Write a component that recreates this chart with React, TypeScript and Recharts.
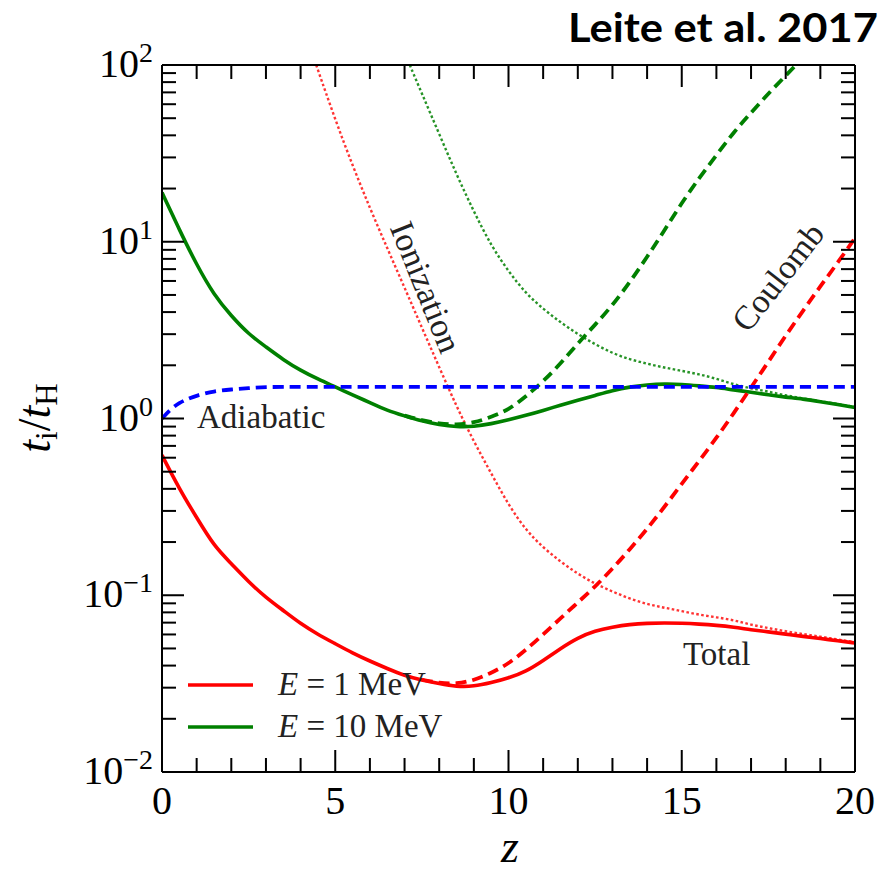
import React from "react";
import { LineChart, Line, XAxis, YAxis } from "recharts";

// z grid for the "Total" curves
const zTotal = [0, 0.5, 1, 1.5, 2, 2.5, 3, 3.5, 4, 4.5, 5, 5.5, 6, 6.5, 7, 7.5, 8, 8.5, 9, 9.5, 10,
  10.5, 11, 11.5, 12, 12.5, 13, 13.5, 14, 14.5, 15, 15.5, 16, 16.5, 17, 17.5, 18, 18.5, 19, 19.5, 20];
const redTotal = [0.62, 0.4, 0.275, 0.19, 0.151, 0.119, 0.097, 0.082, 0.069, 0.06, 0.0532, 0.0471, 0.0424,
  0.0385, 0.0351, 0.0331, 0.0316, 0.0304, 0.0305, 0.032, 0.034, 0.037, 0.0427, 0.05, 0.0575, 0.063, 0.066,
  0.0684, 0.0695, 0.0698, 0.0695, 0.0687, 0.0676, 0.066, 0.0638, 0.0621, 0.0603, 0.0585, 0.0569, 0.0552, 0.0537];
const greenTotal = [19, 11.7, 7.4, 5.0, 3.8, 3.0, 2.54, 2.15, 1.87, 1.67, 1.51, 1.36, 1.23, 1.11, 1.035, 0.966,
  0.923, 0.897, 0.9, 0.933, 0.982, 1.042, 1.11, 1.19, 1.27, 1.35, 1.44, 1.51, 1.55, 1.57, 1.56, 1.53, 1.5, 1.45,
  1.41, 1.36, 1.32, 1.29, 1.245, 1.2, 1.155];

// Coulomb (dashed)
const zRedCoulomb = [7.5, 8, 8.5, 9, 9.5, 10, 10.5, 11, 11.5, 12, 12.5, 13, 13.5, 14, 14.5, 15, 15.5, 16,
  16.5, 17, 17.5, 18, 18.5, 19, 19.5, 20];
const redCoulomb = [0.0333, 0.0318, 0.0315, 0.033, 0.0363, 0.041, 0.049, 0.06, 0.074, 0.091, 0.112, 0.141,
  0.182, 0.237, 0.316, 0.427, 0.575, 0.776, 1.07, 1.5, 2.09, 2.95, 4.07, 5.6, 7.6, 10.5];
const zGreenCoulomb = [7, 7.5, 8, 8.5, 9, 9.5, 10, 10.5, 11, 11.5, 12, 12.5, 13, 13.5, 14, 14.5, 15, 15.5,
  16, 16.5, 17, 17.5, 18, 18.5];
const greenCoulomb = [1.04, 0.975, 0.935, 0.92, 0.945, 1.02, 1.12, 1.33, 1.62, 2.04, 2.66, 3.39, 4.37, 5.9,
  8.2, 11.6, 16.6, 22.9, 30.9, 41.7, 53.7, 69, 87, 110];

// Ionization (dotted)
const zRedIon = [4.45, 5, 5.5, 6, 6.5, 7, 7.5, 8, 8.5, 9, 9.5, 10, 10.5, 11, 11.5, 12, 12.5, 13, 13.5, 14,
  14.5, 15, 15.5, 16, 16.5, 17, 17.5, 18, 18.5, 19, 19.5, 20];
const redIon = [100, 49, 27, 15.5, 9.2, 5.5, 3.27, 1.95, 1.17, 0.74, 0.49, 0.324, 0.234, 0.186, 0.155, 0.132,
  0.116, 0.105, 0.0955, 0.089, 0.085, 0.0813, 0.0776, 0.075, 0.0724, 0.068, 0.0652, 0.0625, 0.0603, 0.0583,
  0.0562, 0.0543];
const zGreenIon = [7.15, 7.5, 8, 8.5, 9, 9.5, 10, 10.5, 11, 11.5, 12, 12.5, 13, 13.5, 14, 14.5, 15, 15.5, 16,
  16.5, 17, 17.5, 18, 18.5, 19, 19.5, 20];
const greenIon = [100, 69, 40.7, 24, 14.8, 9.5, 6.8, 5.1, 4.17, 3.5, 3.0, 2.63, 2.34, 2.16, 2.04, 1.94, 1.86,
  1.78, 1.68, 1.56, 1.48, 1.42, 1.35, 1.3, 1.25, 1.21, 1.16];

// Adiabatic (blue dashed)
const zAdiabatic = [0, 0.25, 0.5, 0.75, 1, 1.5, 2, 2.5, 3, 4, 6, 8, 10, 12, 14, 16, 18, 20];
const adiabatic = [1.0, 1.13, 1.23, 1.29, 1.35, 1.43, 1.46, 1.485, 1.51, 1.51, 1.51, 1.51, 1.51, 1.51, 1.51,
  1.51, 1.51, 1.51];

// axis ticks
const xMinorTicks = [1, 2, 3, 4, 6, 7, 8, 9, 11, 12, 13, 14, 16, 17, 18, 19];
const xMajorTicks = [0, 5, 10, 15, 20];
const yMajorTicks = [0.01, 0.1, 1, 10, 100];
const yMinorTicks = yMajorTicks
  .slice(0, -1)
  .flatMap((d) => [2, 3, 4, 5, 6, 7, 8, 9].map((m) => +(d * m).toPrecision(3)));

const RED = "#ff0000";
const GREEN = "#008000";
const BLUE = "#0000ff";
const SERIF = "'Liberation Serif', 'Times New Roman', serif";

// plot frame (matches the axis sizes given to the chart below)
const W = 885;
const H = 873;
const LEFT = 162;
const RIGHT = 30;
const TOP = 65;
const BOTTOM = 101;
const plotW = W - LEFT - RIGHT;
const plotH = H - TOP - BOTTOM;
const zToPx = (z: number) => LEFT + (z / 20) * plotW;
const vToPx = (v: number) => TOP + ((2 - Math.log10(v)) / 4) * plotH;

const pts = (z: number[], v: number[]) => z.map((zz, i) => ({ z: zz, v: v[i] }));

const expLabel = (v: number) => {
  const e = Math.round(Math.log10(v));
  return e < 0 ? "\u2212" + -e : String(e);
};

const BottomLabel = ({ x, y, payload }: any) => (
  <text x={x} y={y + 42} textAnchor="middle" fontFamily={SERIF} fontSize={40} fill="#000">
    {payload.value}
  </text>
);

const LeftLabel = ({ x, y, payload }: any) => (
  <text x={x - 9} y={y + 12} textAnchor="end" fontFamily={SERIF} fontSize={40} fill="#000">
    10
    <tspan dy={-15} fontSize={28}>
      {expLabel(payload.value)}
    </tspan>
  </text>
);

const NoLabel = () => <g />;

const axisLine = { stroke: "#000", strokeWidth: 2 };

// inward tick marks on all four sides, drawn as thin filled bars
function FrameTicks() {
  const x0 = zToPx(0);
  const x1 = zToPx(20);
  const y0 = vToPx(100);
  const y1 = vToPx(0.01);
  const bars: { x: number; y: number; w: number; h: number }[] = [];
  const xt: [number, number][] = [
    ...xMajorTicks.map((z) => [z, 22] as [number, number]),
    ...xMinorTicks.map((z) => [z, 14] as [number, number]),
  ];
  const yt: [number, number][] = [
    ...yMajorTicks.map((v) => [v, 22] as [number, number]),
    ...yMinorTicks.map((v) => [v, 14] as [number, number]),
  ];
  xt.forEach(([z, len]) => {
    const x = zToPx(z);
    bars.push({ x: x - 1, y: y1 - len, w: 2, h: len });
    bars.push({ x: x - 1, y: y0, w: 2, h: len });
  });
  yt.forEach(([v, len]) => {
    const y = vToPx(v);
    bars.push({ x: x0, y: y - 1, w: len, h: 2 });
    bars.push({ x: x1 - len, y: y - 1, w: len, h: 2 });
  });
  return (
    <g fill="#000">
      {bars.map((b, i) => (
        <rect key={i} x={b.x} y={b.y} width={b.w} height={b.h} fill="#000" />
      ))}
    </g>
  );
}

export default function App() {
  const common = {
    xAxisId: "b",
    yAxisId: "l",
    dataKey: "v",
    type: "basis" as const,
    dot: false,
    activeDot: false,
    isAnimationActive: false,
  };
  return (
    <div style={{ position: "absolute", left: 0, top: 0, width: W, height: H, background: "#fff" }}>
      <LineChart width={W} height={H} margin={{ top: 0, right: 0, bottom: 0, left: 0 }}>
        <XAxis xAxisId="b" dataKey="z" type="number" domain={[0, 20]} allowDataOverflow ticks={xMajorTicks} interval={0}
          height={BOTTOM} tickSize={0} tickMargin={0} tickLine={false} axisLine={axisLine} tick={BottomLabel} />
        <XAxis xAxisId="t" orientation="top" dataKey="z" type="number" domain={[0, 20]} allowDataOverflow ticks={xMajorTicks}
          height={TOP} tickSize={0} tickLine={false} axisLine={axisLine} tick={NoLabel} />
        <YAxis yAxisId="l" scale="log" type="number" domain={[0.01, 100]} allowDataOverflow ticks={yMajorTicks} interval={0}
          width={LEFT} tickSize={0} tickMargin={0} tickLine={false} axisLine={axisLine} tick={LeftLabel} />
        <YAxis yAxisId="r" orientation="right" scale="log" type="number" domain={[0.01, 100]} allowDataOverflow ticks={yMajorTicks}
          width={RIGHT} tickSize={0} tickLine={false} axisLine={axisLine} tick={NoLabel} />

        <Line {...common} data={pts(zRedIon, redIon)} stroke={RED} strokeOpacity={0.8} strokeWidth={2.4} strokeDasharray="2.6 2.4" />
        <Line {...common} data={pts(zGreenIon, greenIon)} stroke={GREEN} strokeOpacity={0.85} strokeWidth={2.4} strokeDasharray="2.6 2.4" />
        <Line {...common} data={pts(zTotal, redTotal)} stroke={RED} strokeWidth={3.6} />
        <Line {...common} data={pts(zTotal, greenTotal)} stroke={GREEN} strokeWidth={3.6} />
        <Line {...common} data={pts(zRedCoulomb, redCoulomb)} stroke={RED} strokeWidth={3.8} strokeDasharray="11 6" />
        <Line {...common} data={pts(zGreenCoulomb, greenCoulomb)} stroke={GREEN} strokeWidth={3.8} strokeDasharray="11 6" />
        <Line {...common} data={pts(zAdiabatic, adiabatic)} stroke={BLUE} strokeWidth={3.8} strokeDasharray="11 6" />
      </LineChart>

      <svg width={W} height={H} style={{ position: "absolute", left: 0, top: 0, pointerEvents: "none" }}>
        <FrameTicks />

        <text x={568} y={42} textLength={310} lengthAdjust="spacingAndGlyphs" fontFamily="Lato, 'Open Sans', sans-serif" fontWeight={700} fontSize={40} fill="#000">
          Leite et al. 2017
        </text>

        <text x={197} y={428} fontFamily={SERIF} fontSize={33} fill="#222">Adiabatic</text>
        <text x={683} y={665} fontFamily={SERIF} fontSize={33} fill="#222">Total</text>
        <text x={426} y={287} transform="rotate(68 426 287)" textAnchor="middle" dominantBaseline="central"
          fontFamily={SERIF} fontSize={34} fill="#222">
          Ionization
        </text>
        <text x={778} y={277} transform="rotate(-52 778 277)" textAnchor="middle" dominantBaseline="central"
          fontFamily={SERIF} fontSize={34} fill="#222">
          Coulomb
        </text>

        {/* legend */}
        <line x1={188} x2={253} y1={685} y2={685} stroke={RED} strokeWidth={3.6} />
        <line x1={188} x2={253} y1={727} y2={727} stroke={GREEN} strokeWidth={3.6} />
        <text x={278} y={695} fontFamily={SERIF} fontSize={33} fill="#222">
          <tspan fontStyle="italic">E</tspan> = 1 MeV
        </text>
        <text x={278} y={737} fontFamily={SERIF} fontSize={33} fill="#222">
          <tspan fontStyle="italic">E</tspan> = 10 MeV
        </text>

        {/* axis labels */}
        <text x={510} y={862} textAnchor="middle" fontFamily={SERIF} fontStyle="italic" fontSize={46} fill="#000">
          z
        </text>
        <text x={50} y={418} transform="rotate(-90 50 418)" textAnchor="middle" fontFamily={SERIF} fontSize={46} fill="#000">
          <tspan fontStyle="italic">t</tspan>
          <tspan fontSize={31} dy={7}>i</tspan>
          <tspan dy={-7}>/</tspan>
          <tspan fontStyle="italic">t</tspan>
          <tspan fontSize={31} dy={7}>H</tspan>
        </text>
      </svg>
    </div>
  );
}
